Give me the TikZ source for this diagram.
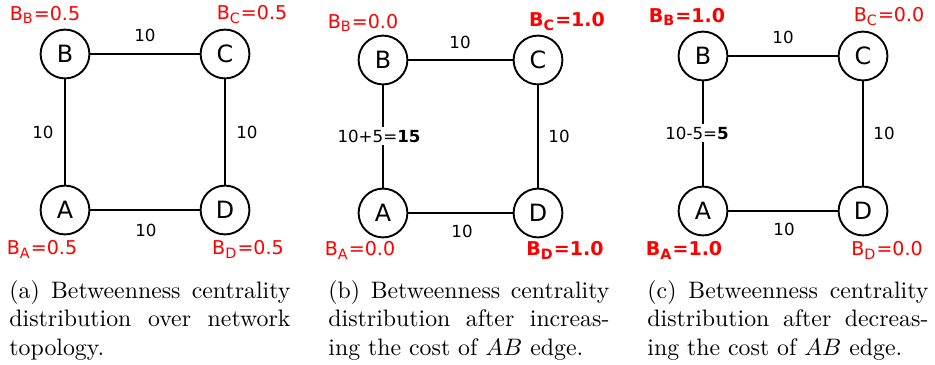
\documentclass[tikz,border=0pt]{standalone}
\usepackage{fontspec}
\usepackage{xcolor}
\usepackage{tikz}
\newfontfamily\dejavu{DejaVu Sans}

\tikzset{
    vertex/.style={draw, circle, line width=0.8pt, minimum size=20.5pt, inner sep=0pt, font=\dejavu\fontsize{10}{12}\selectfont},
    link/.style={line width=1.1pt},
    cost/.style={font=\dejavu\fontsize{7}{8}\selectfont, inner sep=1pt},
    btw/.style={text=red, font=\dejavu\fontsize{8}{10}\selectfont, inner sep=0pt},
    capt/.style={text width=118pt, align=justify, anchor=north west, inner sep=0pt, font=\fontsize{10}{12}\selectfont}
}
\tolerance=10000

\begin{document}
\begin{tikzpicture}[x=0.42pt, y=-0.42pt]
    \useasboundingbox (0,0) rectangle (935,364);

    % (a) network topology
    \node[vertex] (Ba) at (65,54)  {B};
    \node[vertex] (Ca) at (225,54) {C};
    \node[vertex] (Aa) at (65,210) {A};
    \node[vertex] (Da) at (225,210) {D};
    \draw[link] (Ba) -- (Ca);
    \draw[link] (Ba) -- (Aa);
    \draw[link] (Ca) -- (Da);
    \draw[link] (Aa) -- (Da);
    \node[cost] (ba) at (145,35)  {10};
    \node[cost] (la) at (43,132)  {10};
    \node[cost] (ra) at (247,132) {10};
    \node[cost] (da) at (146,230) {10};
    \node[btw] (bBa) at (45,15)   {B\textsubscript{B}=0.5};
    \node[btw] (bCa) at (252,15)  {B\textsubscript{C}=0.5};
    \node[btw] (bAa) at (42,249)  {B\textsubscript{A}=0.5};
    \node[btw] (bDa) at (248,249) {B\textsubscript{D}=0.5};
    \node[capt] (capa) at (9,280) {(a) Betweenness centrality\linebreak distribution over network\linebreak topology.};

    % (b) AB cost increased
    \node[vertex] (Bb) at (383,60)  {B};
    \node[vertex] (Cb) at (538,60)  {C};
    \node[vertex] (Ab) at (383,213) {A};
    \node[vertex] (Db) at (538,213) {D};
    \draw[link] (Bb) -- (Cb);
    \draw[link] (Bb) -- (Ab);
    \draw[link] (Cb) -- (Db);
    \draw[link] (Ab) -- (Db);
    \node[cost] (bb) at (460,42)  {10};
    \node[cost, fill=white] (lb) at (379,136) {10+5=\textbf{15}};
    \node[cost] (rb) at (559,136) {10};
    \node[cost] (db) at (462,231) {10};
    \node[btw] (bBb) at (363,23)  {B\textsubscript{B}=0.0};
    \node[btw, font=\dejavu\bfseries\fontsize{8}{10}\selectfont] (bCb) at (567,22)  {B\textsubscript{C}=1.0};
    \node[btw] (bAb) at (360,250) {B\textsubscript{A}=0.0};
    \node[btw, font=\dejavu\bfseries\fontsize{8}{10}\selectfont] (bDb) at (565,250) {B\textsubscript{D}=1.0};
    \node[capt] (capb) at (328,280) {(b) Betweenness centrality\linebreak distribution after increas-\linebreak ing the cost of $AB$ edge.};

    % (c) AB cost decreased
    \node[vertex] (Bc) at (703,56)  {B};
    \node[vertex] (Cc) at (863,56)  {C};
    \node[vertex] (Ac) at (703,211) {A};
    \node[vertex] (Dc) at (863,211) {D};
    \draw[link] (Bc) -- (Cc);
    \draw[link] (Bc) -- (Ac);
    \draw[link] (Cc) -- (Dc);
    \draw[link] (Ac) -- (Dc);
    \node[cost] (bc) at (783,37)  {10};
    \node[cost, fill=white] (lc) at (697,133) {10-5=\textbf{5}};
    \node[cost] (rc) at (884,133) {10};
    \node[cost] (dc) at (784,229) {10};
    \node[btw, font=\dejavu\bfseries\fontsize{8}{10}\selectfont] (bBc) at (687,17)  {B\textsubscript{B}=1.0};
    \node[btw] (bCc) at (889,17)  {B\textsubscript{C}=0.0};
    \node[btw, font=\dejavu\bfseries\fontsize{8}{10}\selectfont] (bAc) at (684,250) {B\textsubscript{A}=1.0};
    \node[btw] (bDc) at (887,250) {B\textsubscript{D}=0.0};
    \node[capt] (capc) at (647,280) {(c) Betweenness centrality\linebreak distribution after decreas-\linebreak ing the cost of $AB$ edge.};
\end{tikzpicture}
\end{document}
